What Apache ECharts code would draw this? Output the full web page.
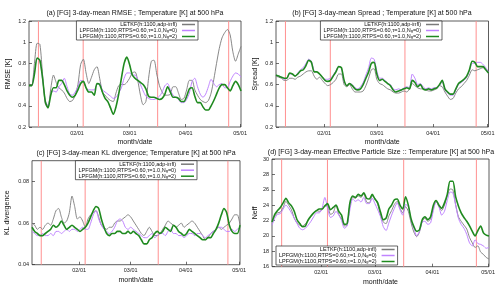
<!DOCTYPE html>
<html><head><meta charset="utf-8">
<script src="https://cdn.jsdelivr.net/npm/echarts@6/dist/echarts.min.js"></script>
<style>html,body{margin:0;padding:0;background:#fff}#c{width:500px;height:288px}</style>
</head><body><div id="c"></div>
<script>
// ---- data (day of year, 0 = Jan 1) ----
const days = [4.5,6,7.5,9,10.5,12,13.5,15,16.5,18,19.5,21,22.5,24,25.5,27,28.5,30,31.5,33,
34.5,36,37.5,39,40.5,42,43.5,45,46.5,48,49.5,51,52.5,54,55.5,57,58.5,60,61.5,63,
64.5,66,67.5,69,70.5,72,73.5,75,76.5,78,79.5,81,82.5,84,85.5,87,88.5,90,91.5,93,
94.5,96,97.5,99,100.5,102,103.5,105,106.5,108,109.5,111,112.5,114,115.5,117,118.5,120,121.5];
const tickDays = [31,60,91,121];
const tickLabels = ['02/01','03/01','04/01','05/01'];
const markerDays = [9.7,34.4,75.5,114.7];
const seriesNames = ['LETKF(h:1100,adp-infl)','LPFGM(h:1100,RTPS=0.60,τ=1.0,N_g=0)','LPFGM(h:1100,RTPS=0.60,τ=1.0,N_g=2)'];

const rmseGray = [.60,.59,.80,.99,.98,.69,.42,.38,.56,.69,
.62,.57,.55,.52,.47,.44,.45,.50,.60,.79,
.84,.71,.61,.67,.74,.77,.66,.53,.50,.47,
.45,.44,.52,.59,.60,.60,.62,.66,.71,.72,
.64,.50,.41,.44,.66,.82,.83,.70,.59,.53,
.50,.50,.51,.58,.58,.52,.46,.47,.55,.64,
.64,.55,.50,.46,.44,.43,.45,.52,.65,.80,
.94,1.04,1.09,1.12,1.07,.91,.82,.89,.96];
const rmsePurple = [.59,.59,.72,.85,.82,.65,.45,.40,.51,.54,
.53,.58,.61,.66,.58,.51,.50,.53,.58,.64,
.63,.57,.55,.55,.55,.60,.61,.55,.53,.51,
.49,.47,.48,.52,.57,.66,.71,.71,.69,.69,
.65,.60,.54,.49,.47,.46,.46,.47,.49,.53,
.59,.61,.55,.50,.48,.46,.43,.43,.46,.52,
.63,.66,.58,.51,.48,.51,.58,.65,.61,.58,
.60,.61,.57,.57,.63,.68,.71,.70,.67];
const rmseGreen = [.59,.59,.70,.85,.83,.66,.44,.38,.50,.57,
.57,.64,.64,.60,.54,.50,.48,.50,.55,.61,
.63,.57,.53,.53,.50,.61,.60,.53,.47,.44,
.38,.32,.39,.51,.66,.80,.86,.79,.69,.66,
.64,.62,.60,.56,.49,.48,.48,.47,.46,.47,
.51,.58,.53,.48,.48,.47,.44,.44,.49,.56,
.57,.49,.43,.43,.39,.36,.36,.40,.45,.51,
.57,.60,.60,.57,.54,.59,.63,.60,.54];

const spreadGray = [.68,.67,.66,.64,.64,.66,.66,.65,.67,.68,
.70,.72,.73,.73,.68,.65,.67,.64,.61,.59,
.60,.62,.65,.70,.70,.60,.58,.60,.56,.53,
.53,.53,.54,.59,.66,.74,.75,.65,.61,.60,
.58,.56,.55,.53,.52,.52,.53,.54,.53,.56,
.61,.59,.57,.56,.56,.55,.54,.54,.55,.56,
.59,.58,.53,.49,.46,.47,.52,.56,.58,.61,
.64,.69,.74,.73,.74,.75,.76,.74,.71];
const spreadPurple = [.69,.68,.67,.65,.66,.70,.70,.68,.71,.74,
.76,.80,.84,.82,.73,.72,.70,.67,.65,.65,
.66,.69,.73,.77,.76,.63,.59,.61,.60,.57,
.56,.58,.62,.69,.76,.85,.84,.73,.66,.66,
.64,.61,.60,.56,.55,.56,.55,.57,.58,.57,
.70,.66,.60,.61,.58,.56,.57,.56,.57,.57,
.59,.63,.55,.52,.50,.50,.55,.60,.62,.64,
.67,.73,.80,.80,.81,.81,.79,.76,.72];
const spreadGreen = [.69,.68,.67,.66,.66,.71,.70,.68,.70,.73,
.74,.78,.83,.81,.72,.72,.70,.67,.64,.63,
.64,.68,.72,.77,.76,.64,.59,.61,.59,.56,
.55,.56,.60,.66,.72,.80,.81,.70,.64,.65,
.63,.61,.59,.55,.53,.54,.55,.56,.57,.56,
.64,.62,.58,.60,.56,.55,.56,.55,.56,.57,
.60,.64,.56,.53,.51,.51,.56,.61,.63,.65,
.68,.74,.82,.81,.77,.77,.77,.74,.71];

const klGray = [.060,.059,.057,.058,.057,.059,.060,.059,.062,.066,
.067,.063,.060,.061,.065,.073,.068,.062,.063,.061,
.058,.062,.064,.065,.066,.063,.059,.058,.057,.058,
.058,.060,.061,.061,.062,.063,.064,.063,.061,.059,
.057,.055,.054,.056,.058,.056,.054,.054,.055,.057,
.059,.061,.060,.059,.058,.059,.060,.058,.059,.060,
.061,.060,.058,.056,.054,.052,.053,.055,.056,.057,
.058,.057,.058,.059,.060,.062,.064,.064,.059];
const klPurple = [.056,.055,.054,.054,.055,.054,.054,.055,.054,.056,
.056,.055,.056,.057,.056,.057,.057,.056,.057,.058,
.057,.057,.060,.064,.066,.062,.059,.057,.056,.055,
.056,.058,.061,.062,.061,.058,.057,.058,.057,.056,
.055,.054,.053,.053,.054,.055,.053,.054,.055,.055,
.054,.056,.057,.055,.055,.054,.054,.053,.054,.055,
.055,.054,.055,.055,.054,.053,.054,.055,.056,.057,
.058,.058,.057,.056,.056,.057,.056,.057,.058];
const klGreen = [.058,.056,.055,.054,.054,.055,.056,.057,.059,.058,
.059,.061,.059,.057,.058,.059,.058,.057,.056,.057,
.058,.060,.063,.066,.068,.067,.062,.058,.055,.054,
.055,.055,.056,.056,.055,.055,.056,.055,.056,.055,
.054,.052,.050,.050,.052,.053,.055,.056,.055,.056,
.058,.057,.056,.059,.058,.056,.055,.054,.055,.057,
.056,.055,.054,.053,.052,.052,.053,.053,.055,.057,
.060,.064,.067,.065,.059,.056,.055,.055,.059];

const neffGray = [21.8,22.6,23.0,23.1,23.7,24.5,24.0,23.4,22.3,21.7,
21.4,21.3,21.6,22.0,22.5,23.0,23.3,23.2,23.4,23.9,
23.9,22.8,23.0,24.0,22.8,22.2,21.3,21.4,24.0,25.0,
24.9,25.2,25.0,25.5,24.4,24.3,25.2,24.9,24.1,22.7,
21.8,21.6,22.6,23.3,24.1,24.5,23.6,23.0,23.8,23.2,
21.7,20.5,19.9,20.5,21.9,22.3,21.9,22.2,23.6,24.5,
23.8,23.3,24.0,25.2,26.1,26.0,24.1,22.5,21.9,21.4,
20.9,19.8,19.1,18.5,18.7,17.9,17.6,17.2,17.0];
const neffPurple = [21.4,22.3,22.8,22.9,23.5,24.0,23.6,23.0,22.3,21.6,
21.0,20.8,21.0,21.4,21.9,22.5,23.0,23.0,23.6,25.0,
23.6,22.4,22.6,23.2,22.7,22.0,21.0,21.3,23.4,24.8,
24.5,24.7,24.4,25.0,24.2,24.2,24.9,24.2,23.4,22.5,
21.2,20.7,21.7,22.7,23.6,24.3,23.4,22.7,24.1,23.8,
22.0,21.0,20.0,20.6,21.8,21.9,21.5,21.7,23.3,24.5,
23.8,22.7,23.2,24.6,25.7,25.6,24.0,22.3,21.5,21.0,
20.2,19.1,18.7,19.5,19.0,18.9,18.7,18.4,18.5];
const neffGreen = [21.8,22.8,23.3,23.7,24.3,24.9,24.3,23.9,23.2,22.1,
21.6,21.2,21.3,22.1,22.6,23.0,23.3,23.5,23.5,23.9,
24.2,23.4,23.7,24.0,23.2,22.7,21.5,21.6,24.3,25.2,
25.0,25.4,25.2,25.6,24.9,24.8,25.4,24.8,24.3,23.1,
22.1,22.3,23.5,24.0,24.7,24.8,24.0,23.5,25.1,24.0,
22.2,21.2,20.6,20.8,22.1,22.5,22.1,22.5,24.0,24.6,
24.0,23.6,24.3,25.4,27.1,27.1,25.1,23.9,23.0,22.4,
21.9,21.3,20.6,20.0,20.7,21.3,20.4,20.1,20.0];

// ---- styling / layout ----
const FONT = '"Liberation Sans", Arial, sans-serif';
const colors = ['#7a7a7a', '#c084ff', '#1f8a1f'];
const widths = [0.9, 1.0, 1.6];
const panels = [
  {title:'(a) [FG] 3-day-mean RMSE ; Temperature [K] at 500 hPa', yName:'RMSE [K]', min:0.2, max:1.2, interval:0.2, dec:1,
   vals:[rmseGray, rmsePurple, rmseGreen], grid:{left:29, top:21, width:212, height:106}, tx:135, ty:13,
   legend:{right:302, top:21}, yGap:17},
  {title:'(b) [FG] 3-day-mean Spread ; Temperature [K] at 500 hPa', yName:'Spread [K]', min:0.2, max:1.2, interval:0.2, dec:1,
   vals:[spreadGray, spreadPurple, spreadGreen], grid:{left:276, top:21, width:212.5, height:106}, tx:382, ty:13,
   legend:{right:58, top:21}, yGap:17},
  {title:'(c) [FG] 3-day-mean KL divergence; Temperature [K] at 500 hPa', yName:'KL divergence', min:0.04, max:0.09, interval:0.02, dec:2,
   vals:[klGray, klPurple, klGreen], grid:{left:32, top:160.7, width:208, height:104}, tx:136, ty:153,
   legend:{right:303, top:160.7}, yGap:21, hideMax:true},
  {title:'(d) [FG] 3-day-mean Effective Particle Size :: Temperature [K] at 500 hPa', yName:'Neff', min:16, max:30, interval:2, dec:0,
   vals:[neffGray, neffPurple, neffGreen], grid:{left:272, top:159, width:217, height:107.7}, tx:381, ty:152,
   legend:{left:276, bottom:23}, yGap:13}
];

function legendFmt(n){
  const m = n.match(/^(.*N)_g(.*)$/);
  return m ? '{t|' + m[1] + '}{s|g}{t|' + m[2] + '}' : '{t|' + n + '}';
}

const option = {
  animation:false,
  backgroundColor:'#fff',
  textStyle:{fontFamily:FONT},
  grid:[], xAxis:[], yAxis:[], series:[], legend:[], graphic:[]
};
panels.forEach((p, i) => {
  option.grid.push(Object.assign({show:true, borderColor:'#333', borderWidth:0.8, backgroundColor:'transparent'}, p.grid));
  option.xAxis.push({
    type:'value', gridIndex:i, min:4.5, max:121.5,
    name:'month/date', nameLocation:'middle', nameGap:12,
    nameTextStyle:{fontSize:7, color:'#111', fontFamily:FONT},
    axisLine:{show:false}, splitLine:{show:false},
    axisTick:{show:true, inside:true, length:3, customValues:tickDays, lineStyle:{color:'#333', width:0.7}},
    axisLabel:{show:true, customValues:tickDays, fontSize:5.5, color:'#222', margin:3, fontFamily:FONT,
      formatter:v => { const k = tickDays.indexOf(Math.round(v)); return k >= 0 ? tickLabels[k] : ''; }}
  });
  option.yAxis.push({
    type:'value', gridIndex:i, min:p.min, max:p.max, interval:p.interval,
    name:p.yName, nameLocation:'middle', nameRotate:90, nameGap:p.yGap,
    nameTextStyle:{fontSize:7, color:'#111', fontFamily:FONT},
    axisLine:{show:false}, splitLine:{show:false},
    axisTick:{show:true, inside:true, length:3, lineStyle:{color:'#333', width:0.7}},
    axisLabel:{fontSize:5.5, color:'#222', margin:3, fontFamily:FONT, showMaxLabel: p.hideMax ? false : null,
      formatter:v => p.dec === 1 ? String(+v.toFixed(1)) : v.toFixed(p.dec)}
  });
  markerDays.forEach((d, j) => {
    option.series.push({
      type:'line', name:'marker-' + i + '-' + j, xAxisIndex:i, yAxisIndex:i, z:1, silent:true,
      data:[[d, p.min], [d, p.max]], symbol:'none',
      lineStyle:{color:'#ff9090', width:1}, itemStyle:{color:'#ff9090'}
    });
  });
  p.vals.forEach((arr, s) => {
    option.series.push({
      type:'line', name:seriesNames[s], xAxisIndex:i, yAxisIndex:i, z:2 + s,
      data: days.map((d, k) => [d, arr[k]]),
      symbol:'none', showSymbol:false, smooth:0.25, clip:true,
      lineStyle:{color:colors[s], width:widths[s]}, itemStyle:{color:colors[s]}
    });
  });
  option.legend.push(Object.assign({
    data:seriesNames.map((n, s) => ({name:n, icon:'rect', itemStyle:{color:colors[s]}})),
    orient:'vertical', align:'right', selectedMode:false,
    itemWidth:13, itemHeight:1.5, itemGap:0, padding:[0.5,3,0.5,3],
    borderColor:'#222', borderWidth:0.7, backgroundColor:'#fff', z:10,
    formatter:legendFmt,
    textStyle:{fontSize:5.5, color:'#111', fontFamily:FONT,
      rich:{t:{fontSize:5.5, lineHeight:5.3, fontFamily:FONT, color:'#111'},
            s:{fontSize:4, lineHeight:5.3, verticalAlign:'bottom', fontFamily:FONT, color:'#111'}}}
  }, p.legend));
  option.graphic.push({type:'text', x:p.tx, y:p.ty, silent:true,
    style:{text:p.title, fontSize:7, fontFamily:FONT, fill:'#111', align:'center', verticalAlign:'middle'}});
});
const chart = echarts.init(document.getElementById('c'), null, {renderer:'canvas'});
chart.setOption(option);
</script></body></html>
